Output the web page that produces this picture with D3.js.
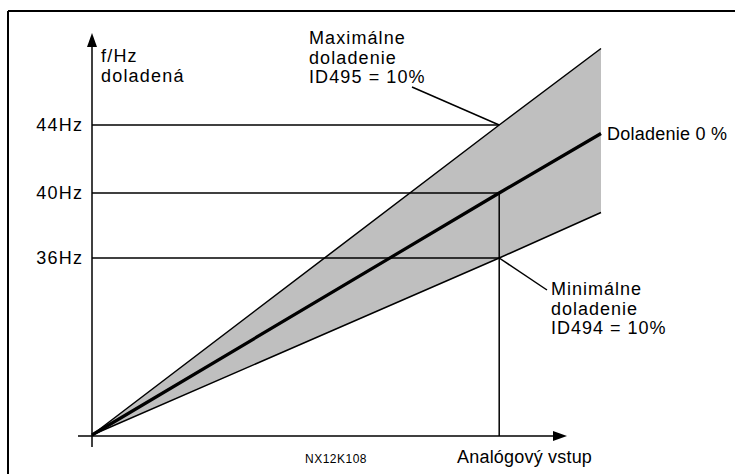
<!DOCTYPE html>
<html>
<head>
<meta charset="utf-8">
<script src="https://cdn.jsdelivr.net/npm/d3@7"></script>
<style>
  html, body { margin: 0; padding: 0; background: #fff; }
  svg { display: block; }
  text { font-family: "Liberation Sans", Arial, sans-serif; fill: #000; }
</style>
</head>
<body>
<svg id="chart" width="735" height="474"></svg>
<script>
// Analog input (schematic units 0..10), operating point at 8
const inputs = [0, 8, 10];
// Frequency series (Hz, schematic)
const centerHz = [0, 40, 43.5];   // Doladenie 0 %
const upperHz  = [0, 44, 48.5];   // Maximálne doladenie
const lowerHz  = [0, 36, 38.8];   // Minimálne doladenie
const tickHz = [44, 40, 36];
const tickLabels = ["44Hz", "40Hz", "36Hz"];
const operatingInput = 8;

const svg = d3.select("#chart");

// Schematic (polylinear) scales
const x = d3.scaleLinear().domain([0, 10]).range([92, 601]);
const y = d3.scaleLinear().domain([0, 36, 40, 44]).range([435, 258, 193, 125]);

// Frame (top and left)
svg.append("line").attr("x1", 8).attr("y1", 11).attr("x2", 735).attr("y2", 11)
  .attr("stroke", "#000").attr("stroke-width", 2);
svg.append("line").attr("x1", 8).attr("y1", 11).attr("x2", 8).attr("y2", 474)
  .attr("stroke", "#000").attr("stroke-width", 2);

// Grey band
const upperPts = inputs.map((d, i) => [x(d), y(upperHz[i])]);
const lowerPts = inputs.map((d, i) => [x(d), y(lowerHz[i])]);
const band = upperPts.concat(lowerPts.slice().reverse());
svg.append("path")
  .attr("d", d3.line()(band) + "Z")
  .attr("fill", "#bfbfbf").attr("stroke", "none");

const line = d3.line().x((d, i) => x(inputs[i])).y(d => y(d));

// Guide lines
tickHz.forEach(v => {
  svg.append("line")
    .attr("x1", x(0)).attr("x2", x(operatingInput))
    .attr("y1", y(v)).attr("y2", y(v))
    .attr("stroke", "#000").attr("stroke-width", 1.5);
});
svg.append("line")
  .attr("x1", x(operatingInput)).attr("x2", x(operatingInput))
  .attr("y1", y(40)).attr("y2", y(0) + 1)
  .attr("stroke", "#000").attr("stroke-width", 1.5);

// Boundary lines
svg.append("path").attr("d", line(upperHz)).attr("fill", "none")
  .attr("stroke", "#000").attr("stroke-width", 1.5);
svg.append("path").attr("d", line(lowerHz)).attr("fill", "none")
  .attr("stroke", "#000").attr("stroke-width", 1.5);
svg.append("path").attr("d", line(centerHz)).attr("fill", "none")
  .attr("stroke", "#000").attr("stroke-width", 3.2);

// Axes
const x0 = x(0), y0 = y(0) + 1;
svg.append("line").attr("x1", x0).attr("x2", x0).attr("y1", 447).attr("y2", 46)
  .attr("stroke", "#000").attr("stroke-width", 1.5);
svg.append("path").attr("d", `M${x0},33 L${x0 - 5},47 L${x0 + 5},47 Z`).attr("fill", "#000");
svg.append("line").attr("x1", 78).attr("x2", 555).attr("y1", y0).attr("y2", y0)
  .attr("stroke", "#000").attr("stroke-width", 1.5);
svg.append("path").attr("d", `M567,${y0} L553,${y0 - 5} L553,${y0 + 5} Z`).attr("fill", "#000");

// Tick labels
tickHz.forEach((v, i) => {
  svg.append("text").attr("x", 83.2).attr("y", y(v) + 6)
    .attr("text-anchor", "end").attr("font-size", 18)
    .attr("letter-spacing", 1.2).text(tickLabels[i]);
});

// Axis titles
const yTitle = svg.append("text").attr("font-size", 18).attr("letter-spacing", 1.2);
yTitle.append("tspan").attr("x", 101).attr("y", 62).text("f/Hz");
yTitle.append("tspan").attr("x", 101).attr("y", 82).text("doladená");
svg.append("text").attr("x", 457).attr("y", 463).attr("font-size", 18)
  .attr("letter-spacing", 0.2).text("Analógový vstup");
svg.append("text").attr("x", 305).attr("y", 463).attr("font-size", 12)
  .attr("letter-spacing", 0.5).text("NX12K108");

// Annotations
const maxT = svg.append("text").attr("font-size", 18).attr("letter-spacing", 1.1);
["Maximálne", "doladenie", "ID495 = 10%"].forEach((s, i) =>
  maxT.append("tspan").attr("x", 309).attr("y", 44 + i * 19.5).text(s));
svg.append("line").attr("x1", 412).attr("y1", 87).attr("x2", x(operatingInput)).attr("y2", y(44))
  .attr("stroke", "#000").attr("stroke-width", 1.5);

const minT = svg.append("text").attr("font-size", 18).attr("letter-spacing", 1.0);
["Minimálne", "doladenie", "ID494 = 10%"].forEach((s, i) =>
  minT.append("tspan").attr("x", 551).attr("y", 295 + i * 19.5).text(s));
svg.append("line").attr("x1", x(operatingInput)).attr("y1", y(36)).attr("x2", 547).attr("y2", 290)
  .attr("stroke", "#000").attr("stroke-width", 1.5);

svg.append("text").attr("x", 607).attr("y", y(centerHz[2]) + 6).attr("font-size", 18)
  .attr("letter-spacing", 0.25).text("Doladenie 0 %");
</script>
</body>
</html>
